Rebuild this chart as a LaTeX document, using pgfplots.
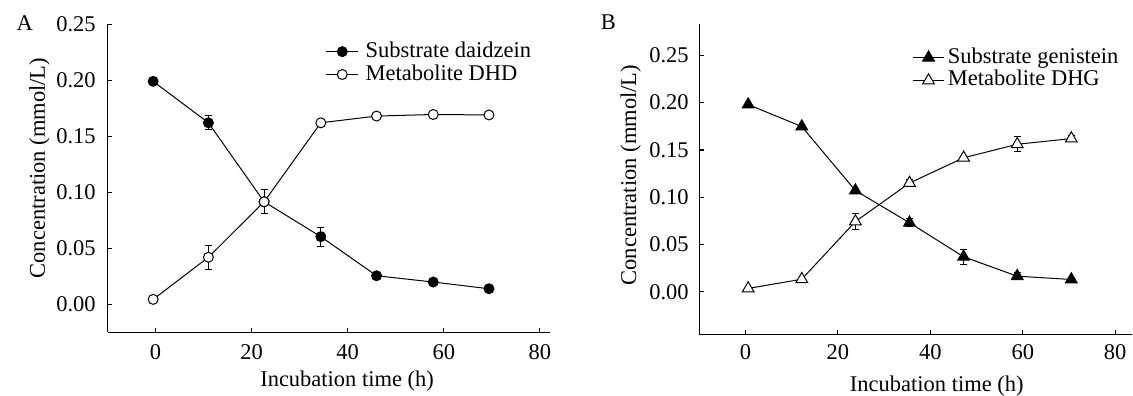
\documentclass[border=0pt]{standalone}
\usepackage{pgfplots}
\pgfplotsset{compat=1.18}
\usepackage{fontspec}
\setmainfont{Liberation Serif}
\begin{document}
\fontsize{11.3}{13.5}\selectfont
\pgfplotsset{
  myax/.style={
    scale only axis, anchor=south west, clip=false,
    axis x line*=bottom, axis y line*=left,
    axis line style={-, line width=0.6pt, black},
    tick align=inside, major tick length=2.2pt,
    tick style={line width=0.6pt, black},
    xmin=-10, xtick={0,20,40,60,80},
    ytick={0,0.05,0.10,0.15,0.20,0.25},
    /pgf/number format/assume math mode=true,
    yticklabel style={/pgf/number format/fixed, /pgf/number format/fixed zerofill, /pgf/number format/precision=2},
    tick label style={font=\fontsize{11.3}{13.5}\selectfont},
    label style={font=\fontsize{11.3}{13.5}\selectfont},
    xlabel={Incubation time (h)},
    ylabel={Concentration (mmol/L)},
    every axis plot/.append style={line width=0.5pt, black},
    error bars/y dir=both, error bars/y explicit,
    error bars/error bar style={line width=0.5pt, black},
    error bars/error mark options={rotate=90, mark size=1.75pt, line width=0.5pt, black},
    legend style={draw=none, fill=none, inner sep=0pt, outer sep=0pt, row sep=0pt,
      nodes={inner sep=0.5pt, text height=8pt, text depth=2.5pt},
      font=\fontsize{11.3}{13.5}\selectfont},
    legend cell align=left,
    legend image code/.code={\draw[mark repeat=2, mark phase=2, #1] plot coordinates {(0pt,0pt) (8pt,0pt) (16pt,0pt)};},
  }
}
\begin{tikzpicture}
\useasboundingbox (0,0) rectangle (566.5pt,198.5pt);
\begin{axis}[myax,
  at={(51.2pt,31.5pt)}, width=222.1pt, height=154.85pt,
  xmax=82, ymin=-0.025, ymax=0.25,
  xticklabel style={yshift=-2pt}, yticklabel style={xshift=-2pt},
  xlabel style={at={(axis description cs:0.542,-0.159)}, anchor=center},
  ylabel style={at={(axis description cs:-0.154,0.533)}, anchor=center},
  legend style={at={(axis description cs:0.494,0.948)}, anchor=north west, column sep=3pt},
]
\addplot[mark=*, mark size=2.5pt, mark options={fill=black, solid}] coordinates {
  (-0.5,0.199) +- (0,0)
  (11.0,0.162) +- (0,0.0064)
  (22.6,0.0915) +- (0,0.0108)
  (34.4,0.0604) +- (0,0.0085)
  (46.0,0.0255) +- (0,0.003)
  (57.8,0.0199) +- (0,0)
  (69.4,0.0139) +- (0,0)
};
\addlegendentry{Substrate daidzein}
\addplot[mark=*, mark size=2.5pt, mark options={fill=white, solid}] coordinates {
  (-0.5,0.0044) +- (0,0)
  (11.0,0.042) +- (0,0.0107)
  (22.6,0.0915) +- (0,0.0108)
  (34.4,0.162) +- (0,0)
  (46.0,0.168) +- (0,0)
  (57.8,0.1694) +- (0,0)
  (69.4,0.169) +- (0,0)
};
\addlegendentry{Metabolite DHD}
\node[font=\fontsize{11.3}{13.5}\selectfont] at (axis description cs:-0.187,1.003) {A};
\end{axis}
\begin{axis}[myax,
  at={(348.5pt,30.5pt)}, width=217.5pt, height=155.85pt,
  xmax=83.63, ymin=-0.045, ymax=0.283,
  xticklabel style={yshift=-1pt}, yticklabel style={xshift=-1.3pt},
  xlabel style={at={(axis description cs:0.549,-0.168)}, anchor=center},
  ylabel style={at={(axis description cs:-0.158,0.513)}, anchor=center},
  legend style={at={(axis description cs:0.492,0.929)}, anchor=north west, column sep=1pt},
]
\addplot[mark=triangle*, mark size=3.4pt, mark options={fill=black, solid}] coordinates {
  (0.6,0.198) +- (0,0)
  (12.2,0.1747) +- (0,0)
  (23.8,0.107) +- (0,0)
  (35.5,0.073) +- (0,0.004)
  (47.2,0.037) +- (0,0.008)
  (58.8,0.0165) +- (0,0.004)
  (70.5,0.013) +- (0,0)
};
\addlegendentry{Substrate genistein}
\addplot[mark=triangle*, mark size=3.4pt, mark options={fill=white, solid}] coordinates {
  (0.6,0.0035) +- (0,0)
  (12.2,0.0133) +- (0,0)
  (23.8,0.0743) +- (0,0.008)
  (35.5,0.115) +- (0,0.004)
  (47.2,0.1417) +- (0,0)
  (58.8,0.156) +- (0,0.008)
  (70.5,0.162) +- (0,0.003)
};
\addlegendentry{Metabolite DHG}
\node[font=\fontsize{11.3}{13.5}\selectfont] at (axis description cs:-0.210,1.007) {B};
\end{axis}
\end{tikzpicture}
\end{document}
